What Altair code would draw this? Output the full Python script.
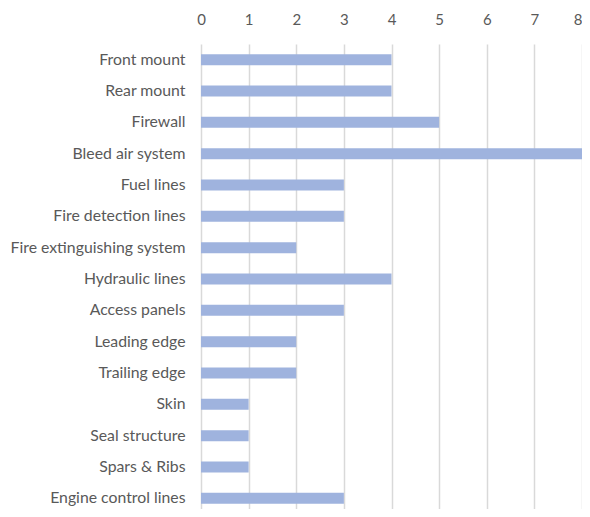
import altair as alt
import pandas as pd

categories = ["Front mount", "Rear mount", "Firewall", "Bleed air system", "Fuel lines",
              "Fire detection lines", "Fire extinguishing system", "Hydraulic lines",
              "Access panels", "Leading edge", "Trailing edge", "Skin", "Seal structure",
              "Spars & Ribs", "Engine control lines"]
values = [4, 4, 5, 8, 3, 3, 2, 4, 3, 2, 2, 1, 1, 1, 3]
x_ticks = [0, 1, 2, 3, 4, 5, 6, 7, 8]

df = pd.DataFrame({"category": categories, "value": values})

chart = alt.Chart(df).mark_bar(color="#9fb3de", size=11).encode(
    x=alt.X("value:Q", scale=alt.Scale(domain=[0, 8], nice=False),
            axis=alt.Axis(orient="top", values=x_ticks, title=None, ticks=False, domain=False,
                          grid=True, gridColor="#d9d9d9", gridWidth=1.5, labelPadding=17,
                          labelAlign=alt.condition("datum.value == 8", alt.value("right"), alt.value("center")),
                          labelFont="Lato", labelFontSize=15, labelColor="#595959", format="d")),
    y=alt.Y("category:N", sort=categories,
            axis=alt.Axis(title=None, ticks=False, domain=False, labelPadding=16,
                          labelFont="Lato", labelFontSize=15.8, labelColor="#595959"))
).properties(
    width=381, height=470,
    autosize=alt.AutoSizeParams(type="none"),
    padding={"left": 193, "top": 36, "right": 0, "bottom": -5}
).configure_view(stroke=None).configure_scale(bandPaddingInner=0.65)

chart.save("out.html", embed_options={"renderer": "svg", "actions": False})
